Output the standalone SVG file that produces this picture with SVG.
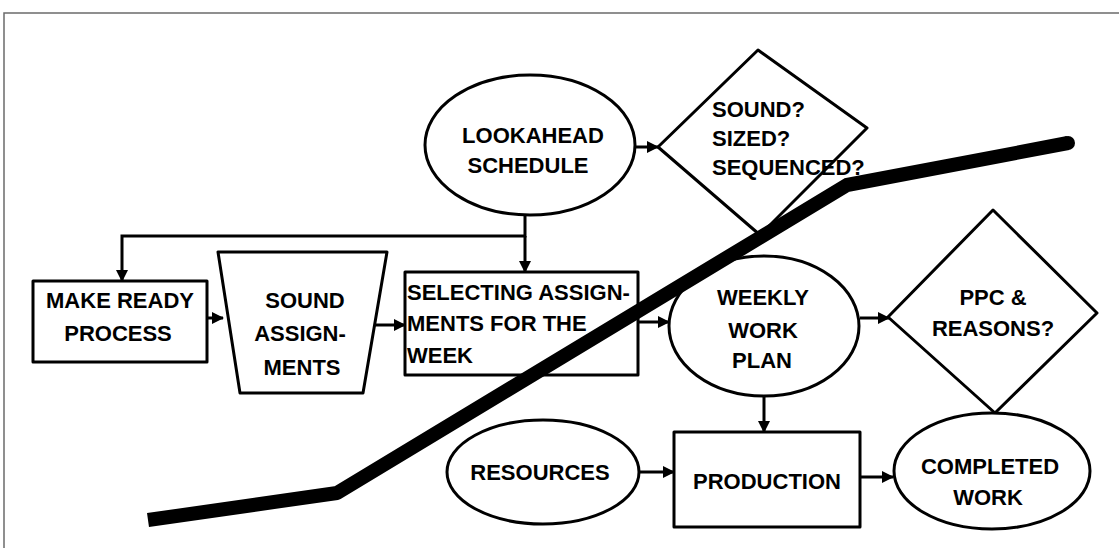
<svg xmlns="http://www.w3.org/2000/svg" width="1119" height="548" viewBox="0 0 1119 548">
  <style>
    .shape { fill: #ffffff; stroke: #000000; stroke-width: 3; stroke-linejoin: round; }
    .label { font-family: "Liberation Sans", Arial, sans-serif; font-weight: bold; font-size: 22px; fill: #000000; }
    .mid { text-anchor: middle; }
    .conn { fill: none; stroke: #000000; stroke-width: 3; }
    .frame { fill: none; stroke: #6b6b6b; stroke-width: 1.5; }
    .trend { fill: none; stroke: #000000; stroke-width: 14; stroke-linejoin: round; stroke-linecap: butt; }
  </style>
  <defs>
    <marker id="arrow" markerUnits="userSpaceOnUse" markerWidth="12" markerHeight="12" refX="11" refY="6" orient="auto">
      <path d="M0,0 L12,6 L0,12 z" fill="#000000"/>
    </marker>
  </defs>

  <rect width="1119" height="548" fill="#ffffff"/>
  <!-- page frame -->
  <path class="frame" d="M4,548 V13 H1119"/>

  <!-- connectors -->
  <g id="connectors">
    <path class="conn" d="M635,147 H658" marker-end="url(#arrow)"/>
    <path class="conn" d="M525,215 V236 H122 V281" marker-end="url(#arrow)"/>
    <path class="conn" d="M525,236 V272" marker-end="url(#arrow)"/>
    <path class="conn" d="M207,318 H223" marker-end="url(#arrow)"/>
    <path class="conn" d="M375,325 H405" marker-end="url(#arrow)"/>
    <path class="conn" d="M638,322 H669" marker-end="url(#arrow)"/>
    <path class="conn" d="M860,318 H889" marker-end="url(#arrow)"/>
    <path class="conn" d="M995,402 V415" marker-end="url(#arrow)"/>
    <path class="conn" d="M764,396 V432" marker-end="url(#arrow)"/>
    <path class="conn" d="M640,472 H674" marker-end="url(#arrow)"/>
    <path class="conn" d="M860,477 H893" marker-end="url(#arrow)"/>
  </g>

  <g id="lookahead">
    <ellipse class="shape" cx="530" cy="145" rx="105" ry="70"/>
    <text class="label mid" x="533" y="143">LOOKAHEAD</text>
    <text class="label mid" x="528" y="173">SCHEDULE</text>
  </g>

  <g id="sound-check">
    <polygon class="shape" points="758,50 867,128 760,235 658,147"/>
    <text class="label" x="712" y="117">SOUND?</text>
    <text class="label" x="712" y="146">SIZED?</text>
    <text class="label" x="712" y="175">SEQUENCED?</text>
  </g>

  <g id="make-ready">
    <rect class="shape" x="33" y="281" width="174" height="81"/>
    <text class="label mid" x="120" y="308">MAKE READY</text>
    <text class="label mid" x="118" y="341">PROCESS</text>
  </g>

  <g id="sound-assignments">
    <polygon class="shape" points="218,252 387,252 363,393 240,393"/>
    <text class="label mid" x="305" y="308">SOUND</text>
    <text class="label mid" x="300" y="341">ASSIGN-</text>
    <text class="label mid" x="302" y="375">MENTS</text>
  </g>

  <g id="selecting">
    <rect class="shape" x="405" y="272" width="233" height="103"/>
    <text class="label" x="407" y="300">SELECTING ASSIGN-</text>
    <text class="label" x="407" y="331">MENTS FOR THE</text>
    <text class="label" x="407" y="363">WEEK</text>
  </g>

  <g id="weekly-plan">
    <ellipse class="shape" cx="764" cy="326" rx="95" ry="70"/>
    <text class="label mid" x="763" y="305">WEEKLY</text>
    <text class="label mid" x="763" y="338">WORK</text>
    <text class="label mid" x="762" y="368">PLAN</text>
  </g>

  <g id="ppc">
    <polygon class="shape" points="993,210 1097,313 995,413 888,317"/>
    <text class="label mid" x="993" y="305">PPC &amp;</text>
    <text class="label mid" x="993" y="336">REASONS?</text>
  </g>

  <g id="resources">
    <ellipse class="shape" cx="543" cy="472" rx="96" ry="52"/>
    <text class="label mid" x="540" y="480">RESOURCES</text>
  </g>

  <g id="production">
    <rect class="shape" x="674" y="432" width="186" height="95"/>
    <text class="label mid" x="767" y="489">PRODUCTION</text>
  </g>

  <g id="completed">
    <ellipse class="shape" cx="992" cy="471" rx="98" ry="58"/>
    <text class="label mid" x="990" y="474">COMPLETED</text>
    <text class="label mid" x="988" y="505">WORK</text>
  </g>

  <!-- heavy trend line drawn over the flow; square start, rounded tip -->
  <path class="trend" d="M148,520 L337,493 L847,185 L1068,143"/>
  <circle cx="1068" cy="143" r="7" fill="#000000"/>
</svg>
